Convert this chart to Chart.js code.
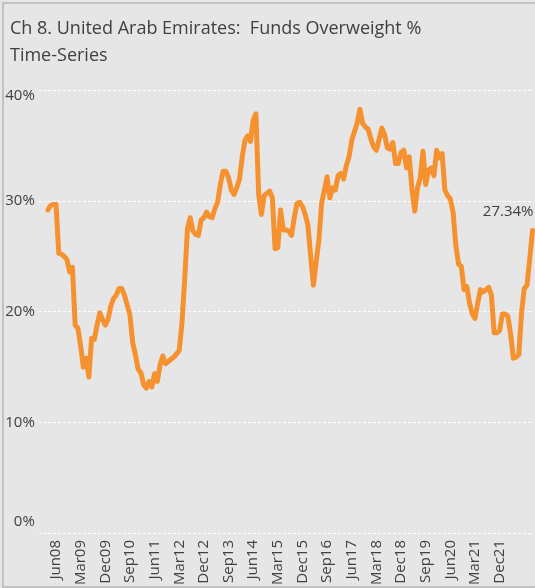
<!DOCTYPE html>
<html><head><meta charset="utf-8">
<script src="https://cdn.jsdelivr.net/npm/chart.js@4.4.1/dist/chart.umd.min.js"></script>
<style>
html,body{margin:0;padding:0;background:#e6e6e6;overflow:hidden;}
#wrap{position:relative;width:535px;height:588px;}
canvas{position:absolute;left:0;top:0;}
#frame{position:absolute;left:2px;top:2px;width:560px;height:586px;box-sizing:border-box;border-left:2px solid #c2c2c2;border-top:2px solid #c2c2c2;border-bottom:2px solid #c2c2c2;pointer-events:none;}
</style></head>
<body>
<div id="wrap"><canvas id="c" width="535" height="588"></canvas><div id="frame"></div></div>
<script>
const titleLines = ['Ch 8. United Arab Emirates:  Funds Overweight %', 'Time-Series'];
const startMonthIndex = 2;   // Mar
const startYear = 8;         // 2008
const monthAbbr = ['Jan','Feb','Mar','Apr','May','Jun','Jul','Aug','Sep','Oct','Nov','Dec'];
const tickLabels = ['Jun08','Mar09','Dec09','Sep10','Jun11','Mar12','Dec12','Sep13','Jun14','Mar15','Dec15','Sep16','Jun17','Mar18','Dec18','Sep19','Jun20','Mar21','Dec21'];
const yTicks = [0, 10, 20, 30, 40];
const lastLabel = '27.34%';
const overweight = [
 29.2,29.6,29.7,29.7,25.3,25.2,25.0,24.7,23.6,24.0,
 18.8,18.5,16.9,15.0,15.8,14.1,17.6,17.5,18.8,19.9,
 19.3,18.8,19.3,20.5,21.2,21.5,22.1,22.1,21.5,20.6,
 19.7,17.2,16.1,14.8,14.5,13.4,13.1,13.7,13.2,14.4,
 13.7,15.2,16.0,15.3,15.5,15.7,15.9,16.2,16.5,19.0,
 23.0,27.5,28.5,27.3,27.0,26.9,28.3,28.5,29.0,28.6,
 28.5,29.3,29.9,31.5,32.7,32.7,32.1,31.0,30.6,31.2,
 32.0,34.0,35.5,35.9,35.4,37.3,37.9,30.6,28.8,30.5,
 30.7,30.9,30.3,25.7,25.8,29.2,27.4,27.4,27.3,26.9,
 28.5,29.8,29.9,29.5,28.8,27.8,25.0,22.4,24.5,26.5,
 29.8,31.0,32.2,30.3,31.2,31.0,32.3,32.5,32.0,33.2,
 34.0,35.5,36.3,37.1,38.3,37.0,36.7,36.5,35.6,34.9,
 34.6,35.6,36.6,36.0,34.8,34.7,35.3,33.4,33.4,34.4,
 34.6,33.0,34.0,31.0,29.1,31.2,32.1,34.5,31.5,32.8,
 33.0,32.3,34.6,33.9,34.3,31.0,30.5,30.2,29.0,26.0,
 24.3,24.1,22.0,22.3,20.8,19.8,19.4,20.8,22.0,21.8,
 22.0,22.2,21.5,18.1,18.1,18.3,19.8,19.8,19.6,18.0,
 15.8,15.9,16.1,19.9,22.1,22.4,24.8,27.34
];
const categories = [];
for (let k = 0; k < overweight.length; k++) {
  const m = (startMonthIndex + k) % 12;
  const y = startYear + Math.floor((startMonthIndex + k) / 12);
  categories.push(monthAbbr[m] + String(y).padStart(2, '0'));
}

const textColor = '#404040';
const gridColor = 'rgba(255,255,255,0.95)';
const fontFamily = '"Open Sans", Roboto, sans-serif';

const endLabel = {
  id: 'endLabel',
  afterDatasetsDraw(chart) {
    const meta = chart.getDatasetMeta(0);
    const pt = meta.data[meta.data.length - 1];
    const ctx = chart.ctx;
    ctx.save();
    ctx.font = '15px ' + fontFamily;
    ctx.fillStyle = textColor;
    ctx.textAlign = 'right';
    ctx.textBaseline = 'middle';
    ctx.fillText(lastLabel, pt.x + 1, pt.y - 19);
    ctx.restore();
  }
};

// let the y-axis labels use the space left of the layout padding (avoid clipping)
const widenYLabelArea = {
  id: 'widenYLabelArea',
  afterLayout(chart) { chart.scales.y.left = 0; }
};

new Chart(document.getElementById('c'), {
  type: 'line',
  data: {
    labels: categories,
    datasets: [{
      data: overweight,
      borderColor: '#f5922f',
      borderWidth: 5,
      pointRadius: 0,
      tension: 0,
      borderJoinStyle: 'round',
      borderCapStyle: 'round',
      fill: false
    }]
  },
  options: {
    responsive: false,
    animation: false,
    layout: { padding: { left: 10, right: 2.5, top: 0, bottom: 0 } },
    plugins: {
      legend: { display: false },
      tooltip: { enabled: false },
      title: {
        display: true,
        text: titleLines,
        align: 'start',
        color: textColor,
        font: { family: fontFamily, size: 18, weight: 'normal', lineHeight: '27px' },
        padding: { top: 15, bottom: 21.5 }
      }
    },
    scales: {
      x: {
        type: 'category',
        offset: false,
        grid: { display: false, drawTicks: false },
        border: { display: false },
        ticks: {
          autoSkip: false,
          maxRotation: 90,
          minRotation: 90,
          padding: 7,
          color: textColor,
          font: { family: fontFamily, size: 15 },
          callback(v) {
            const l = this.getLabelForValue(v);
            return tickLabels.includes(l) ? l : '';
          }
        },
        afterFit(s) { s.height = 55; s.paddingLeft = 0; s.paddingRight = 0; }
      },
      y: {
        min: 0,
        max: 40,
        afterBuildTicks(s) { s.ticks = yTicks.map(v => ({ value: v })); },
        grid: {
          color: gridColor,
          lineWidth: 1,
          drawTicks: true,
          tickLength: 9,
          tickColor: gridColor,
          tickBorderDash: [3, 2]
        },
        border: { display: false, dash: [3, 2] },
        ticks: {
          padding: 4,
          color: textColor,
          font(c) {
            const v = c.tick ? c.tick.value : null;
            return { family: fontFamily, size: 15, lineHeight: v === 40 ? '11px' : (v === 0 ? '23px' : 1.2) };
          },
          callback(v) {
            if (v === 40) return ['', v + '%'];
            if (v === 0) return [v + '%', ''];
            return v + '%';
          }
        },
        afterFit(s) { s.width = 37.8; }
      }
    }
  },
  plugins: [endLabel, widenYLabelArea]
});
</script>
</body></html>
